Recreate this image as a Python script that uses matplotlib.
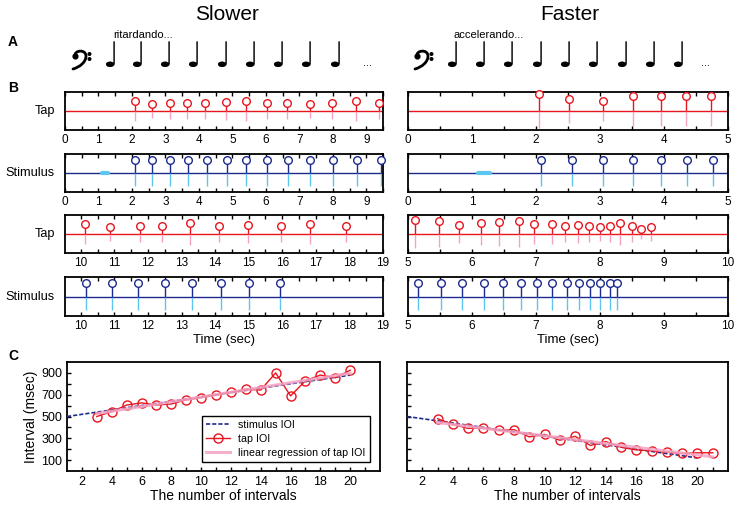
import numpy as np
import matplotlib
matplotlib.use("Agg")
import matplotlib.pyplot as plt
from matplotlib.path import Path
from matplotlib.patches import PathPatch, Circle

plt.rcParams['font.family'] = ['Liberation Sans', 'DejaVu Sans']

W, H = 736, 505

# --- data ----------------------------------------------------------------
# panel B, slower (ritardando) trial: onset times (s) and peak heights
slow_tap_times = [2.09, 2.60, 3.13, 3.63, 4.18, 4.80, 5.41, 6.02, 6.64, 7.31, 7.97, 8.69, 9.38,
                  10.13, 10.87, 11.77, 12.43, 13.26, 14.13, 14.98, 15.95, 16.83, 17.91]
slow_tap_amps = [0.55, 0.37, 0.44, 0.41, 0.41, 0.48, 0.51, 0.41, 0.44, 0.37, 0.44, 0.51, 0.44,
                 0.53, 0.39, 0.44, 0.44, 0.56, 0.44, 0.49, 0.44, 0.53, 0.44]
slow_stim_times = [2.09, 2.61, 3.13, 3.66, 4.23, 4.83, 5.41, 6.02, 6.67, 7.33, 8.01, 8.73, 9.44,
                   10.17, 10.92, 11.70, 12.51, 13.32, 14.18, 15.02, 15.92]

# panel B, faster (accelerando) trial
fast_tap_times = [2.04, 2.52, 3.04, 3.52, 3.95, 4.34, 4.73,
                  5.11, 5.49, 5.80, 6.14, 6.42, 6.74, 6.97, 7.25, 7.46, 7.65, 7.83, 8.00,
                  8.16, 8.32, 8.50, 8.64, 8.79]
fast_tap_amps = [0.88, 0.62, 0.51, 0.81, 0.81, 0.80, 0.81,
                 0.74, 0.68, 0.47, 0.60, 0.61, 0.68, 0.53, 0.51, 0.44, 0.47, 0.40, 0.39,
                 0.42, 0.56, 0.44, 0.28, 0.37]
fast_stim_times = [2.08, 2.57, 3.05, 3.51, 3.95, 4.36, 4.76, 5.16, 5.51, 5.85, 6.18, 6.48,
                   6.76, 7.01, 7.25, 7.48, 7.67, 7.84, 8.00, 8.15, 8.27]
stim_amp = 0.71
click_span = [1.10, 1.28]

# panel C: inter-onset intervals (ms)
stim_n = list(range(1, 21))
slow_stim_ioi = [500, 520, 540, 560, 580, 600, 620, 640, 660, 680,
                 700, 720, 740, 760, 780, 800, 820, 840, 860, 880]
fast_stim_ioi = [500, 480, 460, 440, 420, 400, 380, 360, 340, 320,
                 300, 280, 260, 240, 220, 200, 180, 160, 140, 120]
slow_tap_n = list(range(3, 21))
slow_tap_ioi = [500, 545, 605, 625, 605, 615, 653, 674, 698, 722,
                750, 743, 900, 689, 828, 880, 855, 925]
fast_tap_n = list(range(3, 22))
fast_tap_ioi = [480, 427, 391, 395, 373, 379, 313, 336, 282, 318,
                234, 270, 218, 194, 185, 173, 161, 167, 167]

TAP_RED = '#e8141e'
TAP_PINK = '#f4a3c2'
STIM_NAVY = '#1c2a8e'
STIM_CYAN = '#5cc6ef'

fig = plt.figure(figsize=(W / 100, H / 100), dpi=100)
fig.patch.set_facecolor('white')


def add_ax(x0, y0, x1, y1):
    return fig.add_axes([x0 / W, 1 - y1 / H, (x1 - x0) / W, (y1 - y0) / H])


def ftext(x, y, s, **kw):
    fig.text(x / W, 1 - y / H, s, **kw)


def event_row(ax, times, amps, xlim, up_color, low_color, base_color, click=False):
    lo, hi = xlim
    keep = [(t, a) for t, a in zip(times, amps) if lo <= t <= hi]
    ts = [k[0] for k in keep]
    As = [k[1] for k in keep]
    ax.axhline(0, color=base_color, lw=1.0, zorder=1)
    ax.vlines(ts, [-a for a in As], 0, color=low_color, lw=1.0, zorder=1)
    ax.vlines(ts, 0, As, color=up_color, lw=1.0, zorder=2)
    ax.plot(ts, As, 'o', ms=5.5, mfc='white', mec=up_color, mew=1.0,
            zorder=3, clip_on=False)
    if click:
        ax.plot(click_span, [0, 0], color=STIM_CYAN, lw=3, solid_capstyle='round', zorder=2)
    ax.set_xlim(lo, hi)
    ax.set_ylim(-1, 1)
    ax.set_yticks([])
    first = int(np.ceil(lo))
    ax.set_xticks(np.arange(first, hi + 0.01, 1))
    ax.set_xticks(np.arange(np.ceil(lo * 2) / 2, hi + 0.01, 0.5), minor=True)
    ax.tick_params(axis='x', which='both', direction='in', top=True, length=3,
                   width=1, labelsize=8.5, pad=3)
    for sp in ax.spines.values():
        sp.set_linewidth(1.3)


rows_y = [(92, 130), (154, 192), (215, 253), (277, 316)]
left_x = (65, 383)
right_x = (408, 728)

slow_lims = [(0, 9.5), (9.53, 19.0)]
fast_lims = [(0, 5), (5, 10)]

for i in range(2):
    # slower column
    ax = add_ax(left_x[0], rows_y[2 * i][0], left_x[1], rows_y[2 * i][1])
    event_row(ax, slow_tap_times, slow_tap_amps, slow_lims[i], TAP_RED, TAP_PINK, TAP_RED)
    ax = add_ax(left_x[0], rows_y[2 * i + 1][0], left_x[1], rows_y[2 * i + 1][1])
    event_row(ax, slow_stim_times, [stim_amp] * len(slow_stim_times), slow_lims[i],
              STIM_NAVY, STIM_CYAN, STIM_NAVY, click=(i == 0))
    if i == 1:
        ax.set_xlabel('Time (sec)', fontsize=9.5, labelpad=1)
    # faster column
    ax = add_ax(right_x[0], rows_y[2 * i][0], right_x[1], rows_y[2 * i][1])
    event_row(ax, fast_tap_times, fast_tap_amps, fast_lims[i], TAP_RED, TAP_PINK, TAP_RED)
    ax = add_ax(right_x[0], rows_y[2 * i + 1][0], right_x[1], rows_y[2 * i + 1][1])
    event_row(ax, fast_stim_times, [stim_amp] * len(fast_stim_times), fast_lims[i],
              STIM_NAVY, STIM_CYAN, STIM_NAVY, click=(i == 0))
    if i == 1:
        ax.set_xlabel('Time (sec)', fontsize=9.5, labelpad=1)

for (y0, y1), lab in zip(rows_y, ['Tap', 'Stimulus', 'Tap', 'Stimulus']):
    ftext(55, (y0 + y1) / 2, lab, ha='right', va='center', fontsize=9.2)


# panel C
def ioi_panel(ax, stim, tap_n, tap, labels=True):
    ax.plot(stim_n, stim, '--', color=STIM_NAVY, lw=1.2, dashes=(2.5, 1.2),
            label='stimulus IOI', zorder=3)
    ax.plot(tap_n, tap, '-o', color=TAP_RED, lw=1.0, ms=6.5, mfc='none', mew=1.0,
            label='tap IOI', zorder=4)
    k, b = np.polyfit(tap_n, tap, 1)
    fit_x = np.array([tap_n[0], tap_n[-1]])
    ax.plot(fit_x, k * fit_x + b, color=TAP_PINK, lw=2.2, alpha=0.85,
            label='linear regression of tap IOI', zorder=5)
    ax.set_xlim(1, 22)
    ax.set_ylim(0, 1000)
    ax.set_xticks(range(2, 21, 2))
    ax.set_xticks(range(3, 22, 2), minor=True)
    ax.set_yticks([100, 300, 500, 700, 900])
    ax.set_yticks([200, 400, 600, 800], minor=True)
    ax.tick_params(which='both', direction='in', length=3, width=1, labelsize=9)
    if not labels:
        ax.tick_params(axis='y', labelleft=False)
    ax.set_xlabel('The number of intervals', fontsize=10, labelpad=1)
    for sp in ax.spines.values():
        sp.set_linewidth(1.3)


axc1 = add_ax(67, 362, 380, 471)
ioi_panel(axc1, slow_stim_ioi, slow_tap_n, slow_tap_ioi)
axc1.set_ylabel('Interval (msec)', fontsize=10, labelpad=2)
leg = axc1.legend(loc='lower right', bbox_to_anchor=(0.968, 0.083), borderaxespad=0,
                  fontsize=7.7, fancybox=False, edgecolor='black', framealpha=1,
                  numpoints=1, handlelength=2.2, labelspacing=0.35, borderpad=0.4)
leg.get_frame().set_linewidth(1.0)

axc2 = add_ax(407, 362, 728, 471)
ioi_panel(axc2, fast_stim_ioi, fast_tap_n, fast_tap_ioi, labels=False)

# panel A and headings
ftext(227, 14, 'Slower', ha='center', va='center', fontsize=15)
ftext(570, 14, 'Faster', ha='center', va='center', fontsize=15)
ftext(143, 35, 'ritardando...', ha='center', va='center', fontsize=8)
ftext(489, 35, 'accelerando...', ha='center', va='center', fontsize=8)

# bass clef: no installed font has the glyph, so it is drawn as a shape
overlay = fig.add_axes([0, 0, 1, 1], zorder=-1)
overlay.set_xlim(0, W)
overlay.set_ylim(H, 0)
overlay.set_axis_off()


def bass_clef(cx, cy):
    verts = [(cx - 5, cy - 2),
             (cx - 6, cy - 8), (cx + 6, cy - 9), (cx + 6, cy - 2),
             (cx + 6, cy + 4), (cx, cy + 9), (cx - 7, cy + 11)]
    codes = [Path.MOVETO, Path.CURVE4, Path.CURVE4, Path.CURVE4,
             Path.CURVE4, Path.CURVE4, Path.CURVE4]
    overlay.add_patch(PathPatch(Path(verts, codes), fill=False, lw=2.0,
                                color='black', capstyle='round'))
    overlay.add_patch(Circle((cx - 4.5, cy - 1.5), 2.4, color='black'))
    overlay.add_patch(Circle((cx + 9.5, cy - 4), 1.3, color='black'))
    overlay.add_patch(Circle((cx + 9.5, cy + 1), 1.3, color='black'))


clef_x = [80, 422]
note_x = [[110, 137, 165, 193, 222, 250, 278, 306, 335],
          [452, 480, 508, 537, 565, 593, 622, 650, 678]]
dots_x = [367, 705]
for cx, nx, dx in zip(clef_x, note_x, dots_x):
    bass_clef(cx, 58)
    for x in nx:
        ftext(x, 57, '\u2669', ha='center', va='center', fontsize=25,
              family=['DejaVu Sans'])
    ftext(dx, 63, '...', ha='center', va='center', fontsize=8)

for lab, y in [('A', 42), ('B', 88), ('C', 356)]:
    ftext(13, y, lab, ha='center', va='center', fontsize=10, fontweight='bold')

fig.savefig('out.png', dpi=100)
